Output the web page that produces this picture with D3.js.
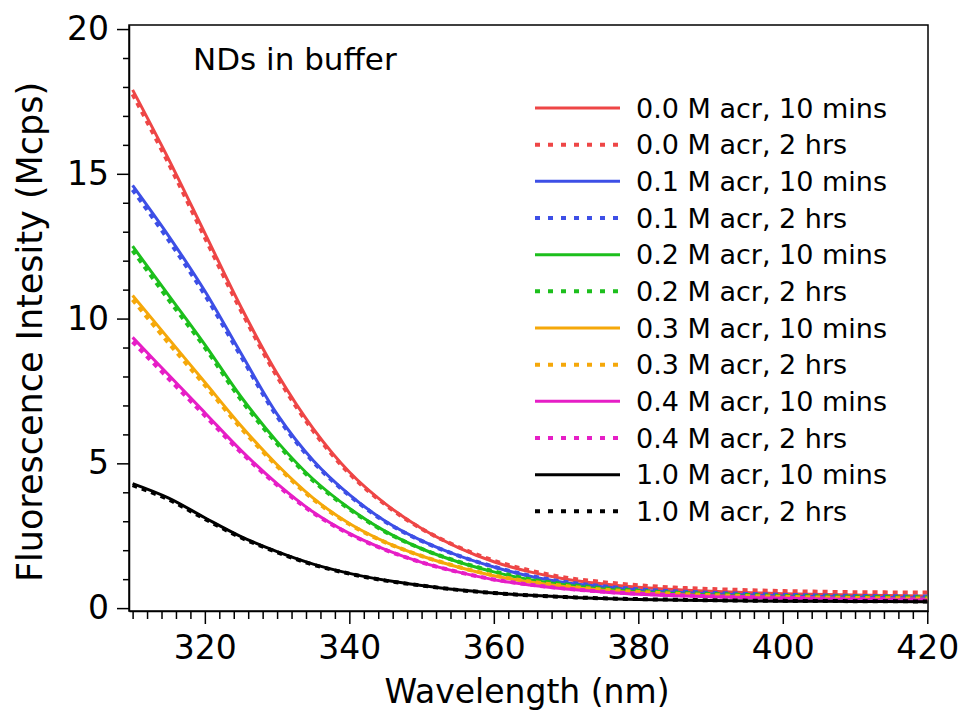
<!DOCTYPE html>
<html>
<head>
<meta charset="utf-8">
<script src="https://cdn.jsdelivr.net/npm/d3@7"></script>
<style>
  body { margin: 0; background: #fff; }
  svg text { font-family: "DejaVu Sans", sans-serif; fill: #000; }
</style>
</head>
<body>
<div id="chart"></div>
<script>
// emission spectra (Mcps)
var wavelengths = [310,315,320,325,330,335,340,345,350,355,360,365,370,375,380,385,390,400,410,420];

var acr00_10m = [17.9,15.5,12.95,10.4,8.1,6.2,4.7,3.6,2.75,2.1,1.6,1.25,1.0,0.84,0.72,0.64,0.58,0.5,0.45,0.42];
var acr00_2h  = [17.75,15.35,12.8,10.28,8.0,6.12,4.65,3.57,2.74,2.12,1.64,1.3,1.05,0.9,0.79,0.71,0.66,0.59,0.55,0.54];
var acr01_10m = [14.6,12.85,10.95,8.8,6.7,5.1,3.92,3.0,2.33,1.82,1.42,1.1,0.88,0.74,0.62,0.55,0.5,0.42,0.38,0.35];
var acr01_2h  = [14.45,12.7,10.82,8.7,6.62,5.05,3.89,2.98,2.32,1.82,1.43,1.12,0.9,0.76,0.65,0.58,0.53,0.46,0.42,0.4];
var acr02_10m = [12.5,10.8,9.1,7.3,5.75,4.45,3.45,2.65,2.05,1.6,1.25,0.98,0.8,0.66,0.56,0.5,0.45,0.38,0.34,0.32];
var acr02_2h  = [12.35,10.65,9.0,7.2,5.68,4.4,3.42,2.63,2.05,1.61,1.27,1.0,0.82,0.69,0.6,0.53,0.49,0.42,0.39,0.37];
var acr03_10m = [10.8,9.3,7.8,6.3,4.95,3.8,2.92,2.28,1.8,1.42,1.12,0.9,0.74,0.62,0.53,0.47,0.42,0.36,0.32,0.3];
var acr03_2h  = [10.65,9.15,7.7,6.22,4.9,3.76,2.9,2.27,1.8,1.43,1.13,0.92,0.76,0.64,0.56,0.5,0.45,0.39,0.35,0.33];
var acr04_10m = [9.35,8.05,6.75,5.45,4.3,3.32,2.58,2.02,1.58,1.25,0.98,0.8,0.66,0.56,0.48,0.43,0.39,0.34,0.3,0.28];
var acr04_2h  = [9.2,7.92,6.65,5.38,4.25,3.29,2.56,2.01,1.58,1.25,0.99,0.81,0.67,0.57,0.5,0.45,0.41,0.36,0.32,0.3];
var acr10_10m = [4.3,3.8,3.12,2.47,1.95,1.52,1.2,0.96,0.78,0.63,0.52,0.44,0.38,0.33,0.3,0.28,0.26,0.24,0.23,0.22];
var acr10_2h  = [4.25,3.75,3.08,2.44,1.93,1.5,1.19,0.95,0.78,0.63,0.52,0.44,0.38,0.34,0.31,0.29,0.27,0.25,0.24,0.23];

var seriesLabels = ["0.0 M acr, 10 mins","0.0 M acr, 2 hrs","0.1 M acr, 10 mins","0.1 M acr, 2 hrs",
                    "0.2 M acr, 10 mins","0.2 M acr, 2 hrs","0.3 M acr, 10 mins","0.3 M acr, 2 hrs",
                    "0.4 M acr, 10 mins","0.4 M acr, 2 hrs","1.0 M acr, 10 mins","1.0 M acr, 2 hrs"];
var seriesValues = [acr00_10m, acr00_2h, acr01_10m, acr01_2h, acr02_10m, acr02_2h,
                    acr03_10m, acr03_2h, acr04_10m, acr04_2h, acr10_10m, acr10_2h];
var colors = ["#ee4646","#3d4fe6","#1cbf1c","#f5a80a","#e61ec6","#000000"];

var xTicks = [320,340,360,380,400,420];
var yTicks = [0,5,10,15,20];

var fullWidth = 962, fullHeight = 719;
var svg = d3.select("#chart").append("svg")
  .attr("width", fullWidth)
  .attr("height", fullHeight);

var x = d3.scaleLinear().domain([309.5, 420.1]).range([129, 928]);
var y = d3.scaleLinear().domain([-0.1, 20.14]).range([611, 25]);

// frame
svg.append("rect")
  .attr("x", 129).attr("y", 25)
  .attr("width", 928 - 129).attr("height", 611 - 25)
  .attr("fill", "none").attr("stroke", "#000").attr("stroke-width", 1.5);

// minor ticks
var xMinor = d3.range(310, 421, 2).filter(function(d) { return xTicks.indexOf(d) < 0; });
svg.append("g").attr("transform", "translate(0,611)")
  .call(d3.axisBottom(x).tickValues(xMinor).tickSize(8).tickFormat("").tickSizeOuter(0))
  .call(function(g) { g.select(".domain").remove(); })
  .selectAll("line").attr("stroke-width", 1.5);

var yMinor = d3.range(1, 20, 1).filter(function(d) { return d % 5 !== 0; });
svg.append("g").attr("transform", "translate(129,0)")
  .call(d3.axisLeft(y).tickValues(yMinor).tickSize(6).tickFormat("").tickSizeOuter(0))
  .call(function(g) { g.select(".domain").remove(); })
  .selectAll("line").attr("stroke-width", 1.5);

// major axes
var xAxis = svg.append("g").attr("transform", "translate(0,611)")
  .call(d3.axisBottom(x).tickValues(xTicks).tickSize(13).tickPadding(12).tickSizeOuter(0));
xAxis.select(".domain").attr("stroke-width", 1.5);
xAxis.selectAll("line").attr("stroke-width", 1.5);
xAxis.selectAll("text").attr("font-size", 33).attr("font-family", "DejaVu Sans");

var yAxis = svg.append("g").attr("transform", "translate(129,0)")
  .call(d3.axisLeft(y).tickValues(yTicks).tickSize(12).tickPadding(8).tickSizeOuter(0));
yAxis.select(".domain").attr("stroke-width", 1.5);
yAxis.selectAll("line").attr("stroke-width", 1.5);
yAxis.selectAll("text").attr("font-size", 33).attr("font-family", "DejaVu Sans");

// axis titles
svg.append("text")
  .attr("x", 527).attr("y", 703)
  .attr("text-anchor", "middle")
  .attr("font-size", 33)
  .text("Wavelength (nm)");

svg.append("text")
  .attr("transform", "translate(42,332) rotate(-90)")
  .attr("text-anchor", "middle")
  .attr("font-size", 35)
  .text("Fluorescence Intesity (Mcps)");

svg.append("text")
  .attr("x", 193).attr("y", 70)
  .attr("font-size", 31)
  .text("NDs in buffer");

// curves
var line = d3.line()
  .x(function(d, i) { return x(wavelengths[i]); })
  .y(function(d) { return y(d); })
  .curve(d3.curveCatmullRom.alpha(0.5));

seriesValues.forEach(function(vals, i) {
  var dashed = i % 2 === 1;
  svg.append("path")
    .datum(vals)
    .attr("d", line)
    .attr("fill", "none")
    .attr("stroke", colors[Math.floor(i / 2)])
    .attr("stroke-width", dashed ? 4 : 3)
    .attr("stroke-dasharray", dashed ? "5,5" : null);
});

// legend
var legend = svg.append("g");
seriesLabels.forEach(function(lab, i) {
  var ly = 108 + i * 36.67;
  var dashed = i % 2 === 1;
  legend.append("line")
    .attr("x1", 535).attr("x2", 620)
    .attr("y1", ly).attr("y2", ly)
    .attr("stroke", colors[Math.floor(i / 2)])
    .attr("stroke-width", dashed ? 4 : 3)
    .attr("stroke-dasharray", dashed ? "5,8" : null);
  legend.append("text")
    .attr("x", 636).attr("y", ly)
    .attr("dy", "0.36em")
    .attr("font-size", 27)
    .text(lab);
});
</script>
</body>
</html>
